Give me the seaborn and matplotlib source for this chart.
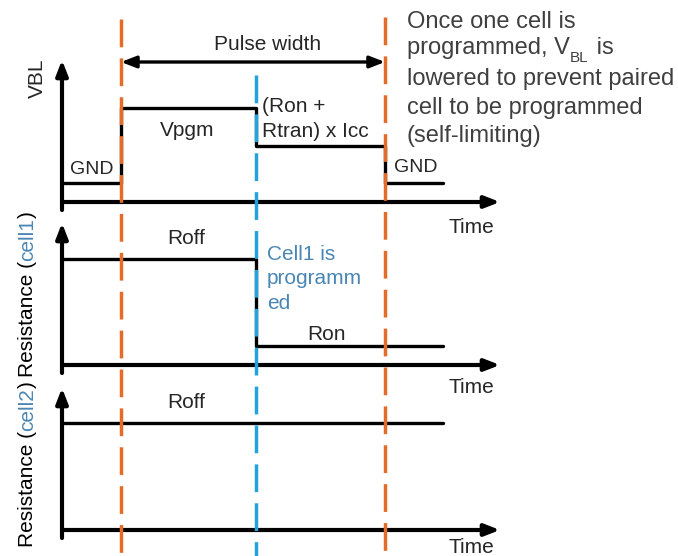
"""
Diagrama de tiempos: pulso de programación VBL y resistencia de cell1 / cell2.
"""

import numpy as np
import pandas as pd
import matplotlib
matplotlib.use("Agg")
import matplotlib.pyplot as plt
import matplotlib.transforms as mtransforms
from matplotlib.patches import ArrowStyle
import seaborn as sns

# tiempos (unidades arbitrarias)
t_inicio = 0.0
t_pulso_on = 5.9
t_programado = 19.4
t_pulso_off = 32.3
t_fin = 38.1
t_max = 43.8

# VBL
vbl_t = [t_inicio, t_pulso_on, t_programado, t_pulso_off, t_fin]
vbl_v = [1.9, 9.4, 5.6, 1.9, 1.9]

# resistencia cell1 (Roff -> Ron al programarse)
cell1_t = [t_inicio, t_programado, t_fin]
cell1_r = [10.6, 1.9, 1.9]

# resistencia cell2 (se queda en Roff)
cell2_t = [t_inicio, t_fin]
cell2_r = [10.7, 10.7]

nota = ["Once one cell is",
        "programmed, V|BL| is",
        "lowered to prevent paired",
        "cell to be programmed",
        "(self-limiting)"]

naranja = "#E46C28"
azul = "#23A3DD"
azul_texto = "#4A86B4"
gris = "#3F3F3F"

sns.set_theme(style="white")
plt.rcParams["font.family"] = ["Liberation Sans", "DejaVu Sans"]

W, H = 678, 556
fig = plt.figure(figsize=(W / 100, H / 100), dpi=100)
fig.patch.set_facecolor("white")

# geometria de los paneles (pixeles)
x_izq, x_der = 62, 500
base_py = [202, 365, 530]
y_lo, y_hi = -0.8, 14.2

flecha_eje = dict(arrowstyle=ArrowStyle("-|>", head_length=0.9, head_width=0.35),
                  color="black", lw=3.0, mutation_scale=10, shrinkA=0, shrinkB=0)

axes = []
for b in base_py:
    abajo = (H - (b - y_lo * 10)) / H
    alto = (y_hi - y_lo) * 10 / H
    ax = fig.add_axes([x_izq / W, abajo, (x_der - x_izq) / W, alto])
    ax.set_xlim(0, t_max)
    ax.set_ylim(y_lo, y_hi)
    ax.axis("off")
    ax.annotate("", xy=(t_max, 0), xytext=(0, 0), arrowprops=flecha_eje,
                annotation_clip=False)
    ax.annotate("", xy=(0, y_hi), xytext=(0, y_lo), arrowprops=flecha_eje,
                annotation_clip=False)
    axes.append(ax)

ax1, ax2, ax3 = axes

# señales
señales = [(ax1, vbl_t, vbl_v), (ax2, cell1_t, cell1_r), (ax3, cell2_t, cell2_r)]
for ax, t, v in señales:
    df = pd.DataFrame({"t": t, "v": v})
    sns.lineplot(data=df, x="t", y="v", ax=ax, color="black", lw=2.4,
                 drawstyle="steps-post", estimator=None, sort=False, legend=False)
    ax.set(xlabel="", ylabel="")

# textos del panel VBL
fs = 15
ax1.text(3.0, 3.2, "GND", fontsize=14, ha="center", va="center")
ax1.text(12.5, 7.2, "Vpgm", fontsize=fs, ha="center", va="center")
for i, linea in enumerate(["(Ron +", "Rtran) x Icc"]):
    ax1.text(20.0, 9.0 - 2.5 * i, linea, fontsize=fs, ha="left", va="baseline")
ax1.text(35.4, 3.5, "GND", fontsize=14, ha="center", va="center")
ax1.text(20.6, 15.7, "Pulse width", fontsize=fs, ha="center", va="center")
ax1.annotate("", xy=(t_pulso_off, 14.0), xytext=(t_pulso_on, 14.0),
             arrowprops=dict(arrowstyle=ArrowStyle("<|-|>", head_length=0.9, head_width=0.35),
                             color="black", lw=2.4, mutation_scale=10,
                             shrinkA=0, shrinkB=0),
             annotation_clip=False)

# textos del panel cell1
ax2.text(12.4, 12.7, "Roff", fontsize=fs, ha="center", va="center")
for i, linea in enumerate(["Cell1 is", "programm", "ed"]):
    ax2.text(20.5, 10.5 - 2.45 * i, linea, fontsize=fs, ha="left",
             va="baseline", color=azul_texto)
ax2.text(26.4, 3.0, "Ron", fontsize=fs, ha="center", va="center")

# textos del panel cell2
ax3.text(12.4, 12.7, "Roff", fontsize=fs, ha="center", va="center")

# "Time" bajo cada eje
for ax, dy in zip(axes, [-1.6, -1.3, -0.8]):
    ax.text(40.9, dy, "Time", fontsize=fs, ha="center", va="top")

# lineas verticales discontinuas que cruzan toda la figura
ax_ov = fig.add_axes([x_izq / W, 0, (x_der - x_izq) / W, 1])
ax_ov.set_xlim(0, t_max)
ax_ov.set_ylim(0, 1)
ax_ov.axis("off")
ax_ov.patch.set_alpha(0)
for t, col, arriba in [(t_pulso_on, naranja, 1 - 19 / H),
                       (t_programado, azul, 1 - 75 / H),
                       (t_pulso_off, naranja, 1 - 17 / H)]:
    ax_ov.plot([t, t], [arriba, 0], color=col, lw=2.5, dashes=(8, 3.2))

ident = mtransforms.IdentityTransform()
renderer = fig.canvas.get_renderer()


def ancho_texto(s, size):
    tmp = fig.text(0, 0, s, fontsize=size, transform=ident)
    w = tmp.get_window_extent(renderer=renderer).width
    tmp.remove()
    return w


# nota de la derecha (el subindice BL se escribe aparte, mas bajo)
for linea, y_px in zip(nota, [28, 54, 85, 114, 142]):
    partes = linea.split("|")
    x = 407
    for j, p in enumerate(partes):
        sub = j % 2 == 1
        size = 11 if sub else 17
        dy = 8 if sub else 0
        fig.text(x, H - y_px - dy, p, transform=ident, fontsize=size, color=gris,
                 ha="left", va="baseline")
        x += ancho_texto(p, size) + (1 if sub else 0)

# etiquetas verticales
fig.text(43, H - 78, "VBL", transform=ident, rotation=90, rotation_mode="anchor",
         ha="center", va="baseline", fontsize=fs)


def etiqueta_vertical(partes, x_px, y_px):
    y0 = H - y_px
    previo = ""
    for texto, color in partes:
        dy = ancho_texto(previo, fs) if previo else 0
        fig.text(x_px, y0 + dy, texto, transform=ident, rotation=90,
                 rotation_mode="anchor", ha="left", va="baseline",
                 fontsize=fs, color=color)
        previo += texto


etiqueta_vertical([("Resistance (", "black"), ("cell1", azul_texto), (")", "black")], 33, 377)
etiqueta_vertical([("Resistance (", "black"), ("cell2", azul_texto), (")", "black")], 33, 547)

fig.savefig("out.png", dpi=100)
